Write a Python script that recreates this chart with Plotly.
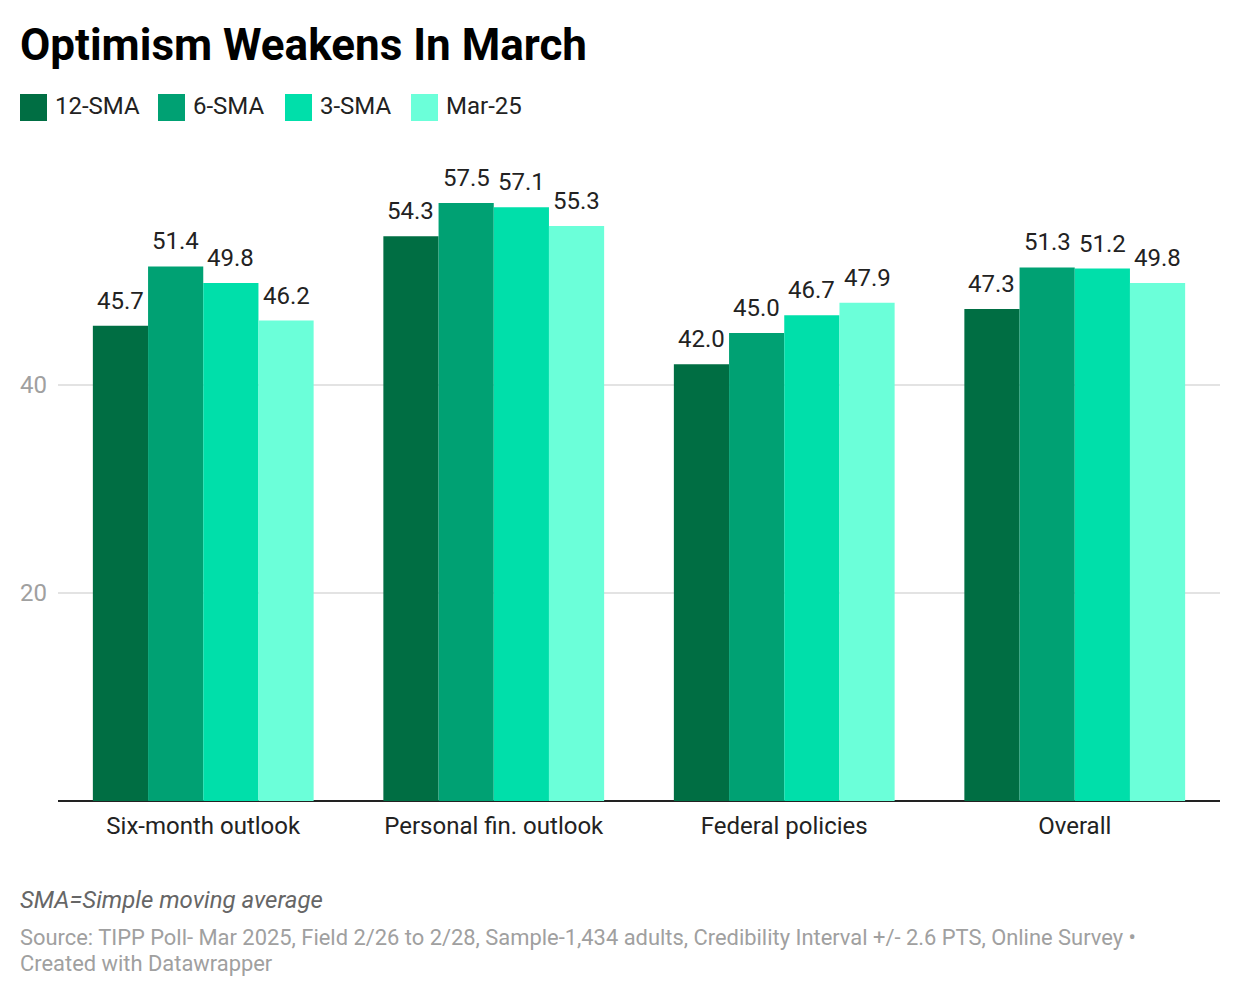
import plotly.graph_objects as go

categories = ["Six-month outlook", "Personal fin. outlook", "Federal policies", "Overall"]
series_names = ["12-SMA", "6-SMA", "3-SMA", "Mar-25"]
values_12sma = [45.7, 54.3, 42.0, 47.3]
values_6sma = [51.4, 57.5, 45.0, 51.3]
values_3sma = [49.8, 57.1, 46.7, 51.2]
values_mar25 = [46.2, 55.3, 47.9, 49.8]
colors = ["#006e43", "#00a173", "#00dfaa", "#6bffd9"]
tick_values = [20, 40]

all_values = [values_12sma, values_6sma, values_3sma, values_mar25]

OFF = 8  # page body margin
W, H = 1240 - OFF, 998 - OFF
# positions in reference-page pixels
REF_PLOT_L, REF_PLOT_R, REF_PLOT_T, REF_PLOT_B = 58, 1220, 177, 801
ml = REF_PLOT_L - OFF
mt = REF_PLOT_T - OFF
mr = W - (REF_PLOT_R - OFF)
mb = H - (REF_PLOT_B - OFF)
PW = W - ml - mr
PH = H - mt - mb
BARGAP = 0.24


def fx(px):
    return (px - REF_PLOT_L) / PW


def fy(py):
    return (REF_PLOT_B - py) / PH


fig = go.Figure()
for name, vals, col in zip(series_names, all_values, colors):
    fig.add_trace(go.Bar(
        x=categories, y=vals, name=name,
        marker=dict(color=col, line=dict(width=0)),
        showlegend=False,
    ))

annots = []
shapes = []

# value labels above bars
bar_w_px = PW / len(categories) * (1 - BARGAP) / len(series_names)
for i, vals in enumerate(all_values):
    for cat, v in zip(categories, vals):
        annots.append(dict(
            x=cat, y=v, xref="x", yref="y", text=f"{v:.1f}",
            showarrow=False, xanchor="center", yanchor="bottom",
            xshift=(i - (len(series_names) - 1) / 2) * bar_w_px, yshift=9,
            font=dict(family="Roboto", size=24, color="#222"),
        ))

fig.update_layout(
    width=W, height=H,
    margin=dict(l=ml, r=mr, t=mt, b=mb),
    paper_bgcolor="white", plot_bgcolor="white",
    barmode="group", bargap=BARGAP, bargroupgap=0,
    font=dict(family="Roboto", color="#222"),
    xaxis=dict(
        showgrid=False, showline=False, ticks="",
        tickfont=dict(family="Roboto", size=24, color="#222"),
        ticklabelstandoff=8,
    ),
    yaxis=dict(
        range=[0, 60], tickvals=tick_values, showgrid=True,
        gridcolor="#e3e3e3", gridwidth=1.5,
        tickfont=dict(family="Roboto", size=24, color="#a0a0a0"),
        zeroline=True, zerolinecolor="#222", zerolinewidth=2,
        showline=False, ticks="", ticklabelstandoff=10,
    ),
)

# Title
annots.append(dict(
    text="<b>Optimism Weakens In March</b>", xref="paper", yref="paper",
    x=fx(18), y=fy(45), xanchor="left", yanchor="middle", showarrow=False,
    font=dict(family="Roboto", size=44, color="#000"),
))

# Manual legend
legend_sq_x = [20, 158, 285, 411]
for name, col, sx in zip(series_names, colors, legend_sq_x):
    shapes.append(dict(
        type="rect", xref="paper", yref="paper",
        x0=fx(sx), x1=fx(sx + 27), y0=fy(121), y1=fy(94),
        fillcolor=col, line=dict(width=0),
    ))
    annots.append(dict(
        text=name, xref="paper", yref="paper",
        x=fx(sx + 33), y=fy(106), xanchor="left", yanchor="middle", showarrow=False,
        font=dict(family="Roboto", size=24, color="#222"),
    ))

# Footer
annots.append(dict(
    text="<i>SMA=Simple moving average</i>", xref="paper", yref="paper",
    x=fx(18), y=fy(900), xanchor="left", yanchor="middle", showarrow=False,
    font=dict(family="Roboto", size=24, color="#666"),
))
annots.append(dict(
    text="Source: TIPP Poll- Mar 2025, Field 2/26 to 2/28, Sample-1,434 adults, Credibility Interval +/- 2.6 PTS, Online Survey •",
    xref="paper", yref="paper", x=fx(18), y=fy(937),
    xanchor="left", yanchor="middle", showarrow=False,
    font=dict(family="Roboto", size=21.9, color="#a0a0a0"),
))
annots.append(dict(
    text="Created with Datawrapper",
    xref="paper", yref="paper", x=fx(18), y=fy(963),
    xanchor="left", yanchor="middle", showarrow=False,
    font=dict(family="Roboto", size=21.9, color="#a0a0a0"),
))

fig.update_layout(annotations=annots, shapes=shapes)

fig.write_html("out.html")
